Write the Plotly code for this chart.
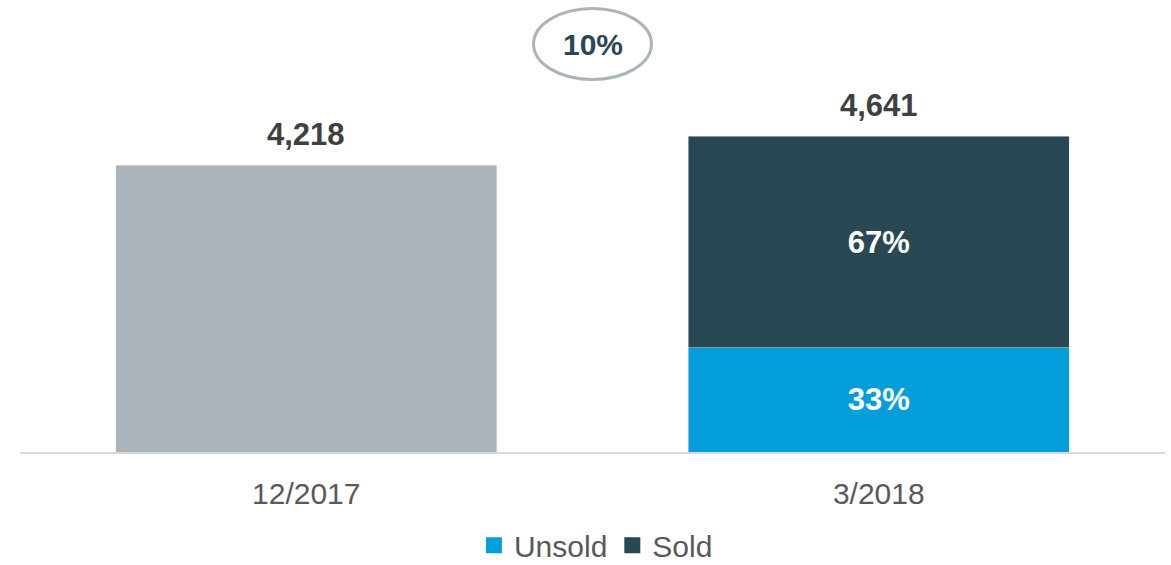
import plotly.graph_objects as go

categories = ["12/2017", "3/2018"]
total_2017 = 4218
total_2018 = 4641
unsold_share = 0.33
sold_share = 0.67
growth_label = "10%"
totals = [total_2017, total_2018]

unsold_val = total_2018 * unsold_share
sold_val = total_2018 - unsold_val

FONT = "Liberation Sans, Arial, sans-serif"
GRAY = "#AAB4BA"
DARK = "#2A4754"
CYAN = "#049FDA"
BOLD_SIZE = 31
REG_SIZE = 30

fig = go.Figure()
fig.add_trace(go.Bar(x=[categories[0]], y=[total_2017], marker_color=GRAY,
                     showlegend=False, hoverinfo="skip"))
fig.add_trace(go.Bar(x=[categories[1]], y=[unsold_val], marker_color=CYAN,
                     text=[f"{unsold_share:.0%}"], textposition="inside",
                     insidetextanchor="middle",
                     textfont=dict(family=FONT, size=BOLD_SIZE, color="white", weight="bold"),
                     showlegend=False, name="Unsold"))
fig.add_trace(go.Bar(x=[categories[1]], y=[sold_val], marker_color=DARK,
                     text=[f"{sold_share:.0%}"], textposition="inside",
                     insidetextanchor="middle",
                     textfont=dict(family=FONT, size=BOLD_SIZE, color="white", weight="bold"),
                     showlegend=False, name="Sold"))
# legend entries
for nm, col in [("Unsold", CYAN), ("Sold", DARK)]:
    fig.add_trace(go.Scatter(x=[None], y=[None], mode="markers", name=nm,
                             marker=dict(symbol="square", size=16, color=col)))

for c, t in zip(categories, totals):
    fig.add_annotation(x=c, y=t, text=f"<b>{t:,}</b>", showarrow=False,
                       yanchor="bottom", yshift=11,
                       font=dict(family=FONT, size=BOLD_SIZE, color="#404040"))

# growth bubble between the bars
fig.add_shape(type="circle", xref="x", yref="paper", x0=0.397, x1=0.603,
              y0=0.913, y1=1.087, line=dict(color=GRAY, width=3),
              fillcolor="white", layer="above")
fig.add_annotation(x=0.5, xref="x", y=1.0, yref="paper", text=f"<b>{growth_label}</b>",
                   showarrow=False, yanchor="middle",
                   font=dict(family=FONT, size=BOLD_SIZE - 1, color=DARK))

fig.update_layout(
    width=1171, height=565,
    margin=dict(l=20, r=6, t=44, b=113),
    barmode="stack", bargap=0.334,
    plot_bgcolor="white", paper_bgcolor="white",
    font=dict(family=FONT, color="#595959", size=REG_SIZE),
    xaxis=dict(type="category", showline=True, linecolor="#D9D9D9", linewidth=2,
               ticks="", ticklabelstandoff=14,
               tickfont=dict(family=FONT, size=REG_SIZE, color="#595959"),
               showgrid=False, zeroline=False),
    yaxis=dict(range=[0, 6000], visible=False, showgrid=False, zeroline=False),
    legend=dict(orientation="h", x=0.503, xanchor="center", yref="container",
                y=0.035, yanchor="middle", traceorder="normal",
                font=dict(family=FONT, size=REG_SIZE, color="#595959"),
                itemwidth=30, tracegroupgap=0),
    showlegend=True,
)

fig.write_html("out.html", config={"displayModeBar": False},
               post_script="document.body.style.margin='0';document.body.style.padding='0';")
